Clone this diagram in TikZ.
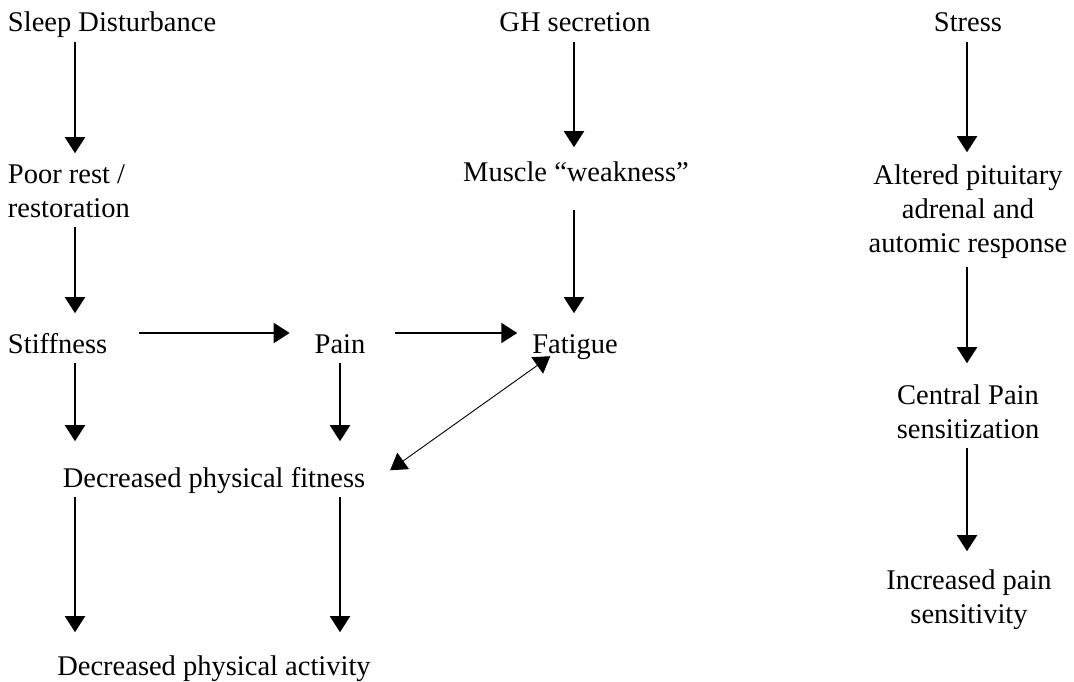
\documentclass[tikz,border=0pt]{standalone}
\usepackage{fontspec}
\setmainfont{Liberation Serif}
\usetikzlibrary{arrows.meta, positioning}

\begin{document}
\begin{tikzpicture}[
    x=1pt, y=-1pt,
    every node/.style={inner sep=0pt, outer sep=0pt, font=\fontsize{28.5}{34}\selectfont,
        execute at begin node=\strut, execute at end node=\strut},
    lbl/.style={anchor=base west, align=left},
    ctr/.style={anchor=base, align=center},
    arr/.style={-{Triangle[length=16pt, width=20pt]}, line width=2pt},
    dbl/.style={{Triangle[length=16pt, width=20pt]}-{Triangle[length=16pt, width=20pt]}, line width=0.9pt},
]
\useasboundingbox (0,0) rectangle (1074,682);

% Sleep column (multi-line nodes sit on their last line)
\node[lbl] (sleep) at (8,32) {Sleep Disturbance};
\node[lbl] (rest) at (8,217) {Poor rest /\\restoration};
\node[lbl] (stiff) at (8,353) {Stiffness};
\node[ctr] (pain) at (340,353) {Pain};
\node[ctr] (fitness) at (214,487) {Decreased physical fitness};
\node[ctr] (activity) at (214,675) {Decreased physical activity};

% GH column
\node[ctr] (gh) at (575,32) {GH secretion};
\node[ctr] (muscle) at (576,182) {Muscle “weakness”};
\node[ctr] (fatigue) at (575,353) {Fatigue};

% Stress column
\node[ctr] (stress) at (968,32) {Stress};
\node[ctr] (altered) at (968,252) {Altered pituitary\\adrenal and\\automic response};
\node[ctr] (central) at (968,438) {Central Pain\\sensitization};
\node[ctr] (increased) at (969,623) {Increased pain\\sensitivity};

\coordinate (colA) at (75,0);
\coordinate (colB) at (340,0);
\coordinate (colC) at (574,0);
\coordinate (colD) at (967,0);
\coordinate (row) at (0,333);

\draw[arr, shorten >=11pt] (sleep.south -| colA) -- (rest.north -| colA);
\draw[arr, shorten >=16pt] (rest.south -| colA) -- (stiff.north -| colA);
\draw[arr, shorten >=22pt] (stiff.south -| colA) -- (fitness.north -| colA);
\draw[arr, shorten >=19pt] (fitness.south -| colA) -- (activity.north -| colA);
\draw[arr, shorten >=22pt] (pain.south -| colB) -- (fitness.north -| colB);
\draw[arr, shorten >=19pt] (fitness.south -| colB) -- (activity.north -| colB);
\draw[arr, shorten >=11pt] (gh.south -| colC) -- (muscle.north -| colC);
\draw[arr, shorten <=18pt, shorten >=16pt] (muscle.south -| colC) -- (fatigue.north -| colC);
\draw[arr, shorten >=12pt] (stress.south -| colD) -- (altered.north -| colD);
\draw[arr, shorten <=5pt, shorten >=21pt] (altered.south -| colD) -- (central.north -| colD);
\draw[arr, shorten >=18pt] (central.south -| colD) -- (increased.north -| colD);
\draw[arr, shorten <=32pt, shorten >=25pt] (stiff.east |- row) -- (pain.west |- row);
\draw[arr, shorten <=30pt, shorten >=15pt] (pain.east |- row) -- (fatigue.west |- row);
\draw[dbl] ([shift={(18,-7)}]fatigue.south west) -- ([shift={(25,7)}]fitness.north east);
\end{tikzpicture}
\end{document}
